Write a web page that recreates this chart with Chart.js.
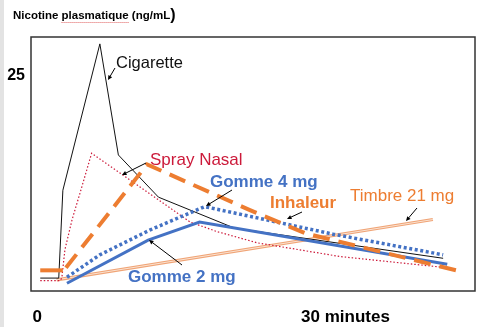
<!DOCTYPE html>
<html>
<head>
<meta charset="utf-8">
<script src="https://cdn.jsdelivr.net/npm/chart.js@4.4.1/dist/chart.umd.min.js"></script>
<style>
    html, body { margin: 0; padding: 0; background: #fff; }
    #wrap { width: 500px; height: 327px; }
</style>
</head>
<body>
<div id="wrap"><canvas id="nicotineChart" width="500" height="327"></canvas></div>
<script>
// time in minutes, plasma nicotine in ng/mL
const cigaretteTime = [0.3, 2.1, 2.5, 6.1, 7.9, 11.8, 19.2, 39.5];
const cigaretteLevel = [1.5, 1.5, 11.7, 28.7, 15.8, 10.9, 7.3, 3.8];

const sprayTime = [0.3, 2.2, 2.4, 2.7, 3.4, 4.2, 5.3, 14.9, 17.5, 21.4, 29.5, 39.9];
const sprayLevel = [1.2, 1.2, 1.5, 4.8, 8.3, 11.5, 16.0, 8.0, 6.9, 5.6, 4.0, 2.7];

// null splits the baseline from the dashed part
const inhaleurTime = [0.3, 2.5, 2.65, 2.8, 10.7, 20.7, 26.1, 41.1];
const inhaleurLevel = [2.4, 2.4, null, 2.7, 14.7, 9.4, 6.7, 2.3];

const gomme4Time = [2.9, 6.1, 11.0, 16.3, 28.8, 39.5];
const gomme4Level = [1.6, 4.2, 7.1, 9.8, 6.6, 4.2];

const gomme2Time = [2.9, 10.8, 15.8, 39.9];
const gomme2Level = [0.9, 5.9, 8.0, 3.1];

const timbreTime = [1.9, 38.5];
const timbreLevel = [1.3, 8.3];

const xTickValues = [0, 30];
const xTickLabels = ['0', '30 minutes'];
const yTickValues = [25];
const yTickLabels = ['25'];

const seriesNames = ['Cigarette', 'Spray Nasal', 'Gomme 4 mg', 'Inhaleur', 'Timbre 21 mg', 'Gomme 2 mg'];

const FONT = '"Liberation Sans", Arial, sans-serif';
const ORANGE = '#ed7d31';
const BLUE = '#4472c4';
const CRIMSON = '#cc1a3a';

function toPoints(xs, ys) {
    return xs.map((x, i) => ({ x: x, y: ys[i] }));
}

// text label, where it sits, and the arrow pointing at its curve
const callouts = [
    { text: seriesNames[0], x: 116, y: 68, font: '16.5px ' + FONT, color: '#111', from: [115, 68], to: [108, 80] },
    { text: seriesNames[1], x: 150, y: 165, font: '17px ' + FONT, color: CRIMSON, from: [146, 163], to: [122, 175] },
    { text: seriesNames[2], x: 210, y: 187, font: 'bold 17px ' + FONT, color: BLUE, from: [232, 190], to: [206, 206] },
    { text: seriesNames[3], x: 270, y: 208, font: 'bold 17px ' + FONT, color: ORANGE, from: [302, 212], to: [287, 219] },
    { text: seriesNames[4], x: 350, y: 201, font: '17px ' + FONT, color: ORANGE, from: [417, 208], to: [406, 221] },
    { text: seriesNames[5], x: 128, y: 282, font: 'bold 17px ' + FONT, color: BLUE, from: [182, 265], to: [149, 240] }
];

function drawArrow(ctx, from, to) {
    const ang = Math.atan2(to[1] - from[1], to[0] - from[0]);
    const head = 5;
    ctx.strokeStyle = '#000';
    ctx.fillStyle = '#000';
    ctx.lineWidth = 1;
    ctx.beginPath();
    ctx.moveTo(from[0], from[1]);
    ctx.lineTo(to[0] - Math.cos(ang) * head * 0.8, to[1] - Math.sin(ang) * head * 0.8);
    ctx.stroke();
    ctx.beginPath();
    ctx.moveTo(to[0], to[1]);
    ctx.lineTo(to[0] - head * Math.cos(ang - 0.45), to[1] - head * Math.sin(ang - 0.45));
    ctx.lineTo(to[0] - head * Math.cos(ang + 0.45), to[1] - head * Math.sin(ang + 0.45));
    ctx.closePath();
    ctx.fill();
}

const decorPlugin = {
    id: 'decor',
    beforeDraw(chart) {
        const ctx = chart.ctx;
        ctx.save();
        ctx.fillStyle = '#fff';
        ctx.fillRect(0, 0, chart.width, chart.height);
        ctx.fillStyle = '#e3e3e3';
        ctx.fillRect(0, 0, 4, chart.height);
        ctx.restore();
    },
    afterDraw(chart) {
        const ctx = chart.ctx;
        const area = chart.chartArea;
        ctx.save();

        // frame round the plot
        ctx.strokeStyle = '#333';
        ctx.lineWidth = 1.5;
        ctx.strokeRect(area.left, area.top, area.right - area.left, area.bottom - area.top);

        // axis title
        ctx.fillStyle = '#000';
        ctx.textBaseline = 'alphabetic';
        ctx.font = 'bold 11.5px ' + FONT;
        const part1 = 'Nicotine ';
        const part2 = 'plasmatique';
        const part3 = ' (ng/mL';
        let x = 13;
        ctx.fillText(part1, x, 19);
        x += ctx.measureText(part1).width;
        const w2 = ctx.measureText(part2).width;
        ctx.fillText(part2, x, 19);
        // red spell-check squiggle under the word
        ctx.strokeStyle = '#e06060';
        ctx.lineWidth = 1;
        ctx.setLineDash([1, 1]);
        ctx.beginPath();
        ctx.moveTo(x, 22.5);
        ctx.lineTo(x + w2, 22.5);
        ctx.stroke();
        ctx.setLineDash([]);
        x += w2;
        ctx.fillText(part3, x, 19);
        x += ctx.measureText(part3).width;
        ctx.font = 'bold 16px ' + FONT;
        ctx.fillText(')', x, 20);

        // series labels and arrows
        callouts.forEach(c => {
            ctx.font = c.font;
            ctx.fillStyle = c.color;
            ctx.fillText(c.text, c.x, c.y);
            drawArrow(ctx, c.from, c.to);
        });
        ctx.restore();
    }
};

const datasets = [
    {
        label: seriesNames[3],
        data: toPoints(inhaleurTime, inhaleurLevel),
        borderColor: ORANGE,
        borderWidth: 4,
        spanGaps: false,
        segment: {
            borderDash: ctx => ctx.p0DataIndex === 0 ? [] : [17, 9]
        }
    },
    {
        label: seriesNames[2],
        data: toPoints(gomme4Time, gomme4Level),
        borderColor: BLUE,
        borderWidth: 3.5,
        borderDash: [3, 2.6]
    },
    {
        label: seriesNames[5],
        data: toPoints(gomme2Time, gomme2Level),
        borderColor: BLUE,
        borderWidth: 3
    },
    {
        label: seriesNames[0],
        data: toPoints(cigaretteTime, cigaretteLevel),
        borderColor: '#111',
        borderWidth: 1
    },
    {
        label: seriesNames[1],
        data: toPoints(sprayTime, sprayLevel),
        borderColor: CRIMSON,
        borderWidth: 1.2,
        borderDash: [1.5, 2]
    },
    {
        label: seriesNames[4] + ' (centre)',
        data: toPoints(timbreTime, timbreLevel),
        borderColor: '#fbe3d2',
        borderWidth: 1
    },
    {
        label: seriesNames[4],
        data: toPoints(timbreTime, timbreLevel),
        borderColor: '#f0a476',
        borderWidth: 3.2
    }
];

new Chart(document.getElementById('nicotineChart'), {
    type: 'line',
    data: { datasets: datasets },
    plugins: [decorPlugin],
    options: {
        responsive: false,
        animation: false,
        events: [],
        elements: {
            point: { radius: 0 },
            line: { tension: 0, borderCapStyle: 'butt', borderJoinStyle: 'miter', fill: false }
        },
        layout: {
            padding: { left: 0, top: 37, right: 25, bottom: 0 }
        },
        plugins: {
            legend: { display: false },
            tooltip: { enabled: false }
        },
        scales: {
            x: {
                type: 'linear',
                min: -0.6,
                max: 42.6,
                grid: { display: false, drawTicks: false },
                border: { display: false },
                afterBuildTicks: scale => {
                    scale.ticks = xTickValues.map(v => ({ value: v }));
                },
                afterFit: scale => { scale.height = 36; },
                ticks: {
                    autoSkip: false,
                    maxRotation: 0,
                    padding: 16,
                    color: '#000',
                    font: { family: FONT, size: 17, weight: 'bold' },
                    callback: (value) => xTickLabels[xTickValues.indexOf(value)]
                }
            },
            y: {
                type: 'linear',
                min: 0,
                max: 29.5,
                grid: { display: false, drawTicks: false },
                border: { display: false },
                afterBuildTicks: scale => {
                    scale.ticks = yTickValues.map(v => ({ value: v }));
                },
                afterFit: scale => { scale.width = 31; },
                ticks: {
                    padding: 6,
                    color: '#000',
                    font: { family: FONT, size: 16, weight: 'bold' },
                    callback: (value) => yTickLabels[yTickValues.indexOf(value)]
                }
            }
        }
    }
});
</script>
</body>
</html>
